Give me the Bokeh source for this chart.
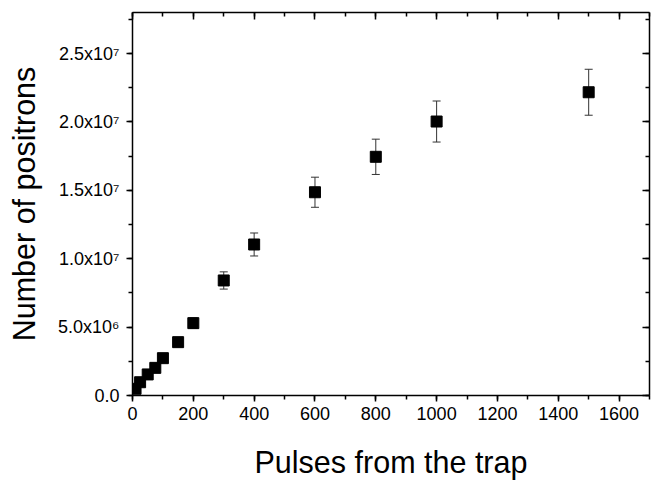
from bokeh.plotting import figure
from bokeh.models import (ColumnDataSource, LinearAxis, SingleIntervalTicker,
                          Range1d, Whisker, TeeHead, CustomLabelingPolicy)
from bokeh.embed import file_html
from bokeh.resources import INLINE

# ---- data ----
pulses = [10, 25, 50, 75, 100, 150, 200, 300, 400, 600, 800, 1000, 1500]
positrons = [0.49e6, 0.97e6, 1.54e6, 2.02e6, 2.73e6, 3.90e6, 5.29e6,
             8.41e6, 1.104e7, 1.486e7, 1.745e7, 2.003e7, 2.217e7]
errors = [0.04e6, 0.07e6, 0.11e6, 0.15e6, 0.2e6, 0.28e6, 0.38e6,
          0.63e6, 0.84e6, 1.10e6, 1.29e6, 1.50e6, 1.68e6]

y_ticks = [0, 5000000, 10000000, 15000000, 20000000, 25000000]
y_tick_labels = ["0.0", "5.0x10\u2076", "1.0x10\u2077", "1.5x10\u2077",
                 "2.0x10\u2077", "2.5x10\u2077"]

x_label = "Pulses from the trap"
y_label = "Number of positrons"

FONT = "Liberation Sans"

src = ColumnDataSource(dict(
    x=pulses, y=positrons,
    upper=[v + e for v, e in zip(positrons, errors)],
    lower=[v - e for v, e in zip(positrons, errors)],
))

p = figure(width=651, height=481, output_backend="svg", toolbar_location=None,
           x_range=Range1d(0, 1700), y_range=Range1d(0, 2.8e7),
           min_border_left=132, min_border_right=2, min_border_top=12,
           min_border_bottom=86, x_axis_location=None, y_axis_location=None)
p.outline_line_color = None
p.grid.visible = False
p.background_fill_color = "white"
p.border_fill_color = "white"

xt = SingleIntervalTicker(interval=200, num_minor_ticks=2)
yt = SingleIntervalTicker(interval=5000000, num_minor_ticks=2)

no_labels = CustomLabelingPolicy(code="""
    const ids = [...indices]
    for (const i of ids) indices.unset(i)
    return indices
""")


def style(ax, inward=False):
    ax.axis_line_color = "black"
    ax.axis_line_width = 1.5
    ax.major_tick_line_color = "black"
    ax.minor_tick_line_color = "black"
    ax.major_tick_line_width = 1.5
    ax.minor_tick_line_width = 1.5
    if inward:
        ax.major_tick_in = 7
        ax.major_tick_out = 0
        ax.minor_tick_in = 4
        ax.minor_tick_out = 0
        ax.major_label_policy = no_labels
        ax.major_label_text_font_size = "0px"
        ax.major_label_standoff = 0
    else:
        ax.major_tick_in = 0
        ax.major_tick_out = 6
        ax.minor_tick_in = 0
        ax.minor_tick_out = 4
        ax.major_label_text_font = FONT
        ax.major_label_text_font_size = "18px"
        ax.major_label_text_color = "black"
        ax.axis_label_text_font = FONT
        ax.axis_label_text_font_size = "30.5px"
        ax.axis_label_text_font_style = "normal"
        ax.axis_label_text_color = "black"


xb = LinearAxis(ticker=xt, axis_label=x_label)
style(xb)
xb.major_label_standoff = 5
xb.axis_label_standoff = 22
p.add_layout(xb, "below")

yl = LinearAxis(ticker=yt, axis_label=y_label)
style(yl)
yl.major_label_standoff = 7
yl.axis_label_standoff = 14
yl.major_label_overrides = dict(zip(y_ticks, y_tick_labels))
p.add_layout(yl, "left")

xtop = LinearAxis(ticker=xt)
style(xtop, inward=True)
p.add_layout(xtop, "above")

yr = LinearAxis(ticker=yt)
style(yr, inward=True)
p.add_layout(yr, "right")

w = Whisker(source=src, base="x", upper="upper", lower="lower",
            line_color="#333333", line_width=1,
            upper_head=TeeHead(size=8, line_color="#333333", line_width=1),
            lower_head=TeeHead(size=8, line_color="#333333", line_width=1))
p.add_layout(w)

p.scatter("x", "y", source=src, marker="square", size=11,
          fill_color="black", line_color="black")

open("out.html", "w").write(file_html(p, INLINE))
